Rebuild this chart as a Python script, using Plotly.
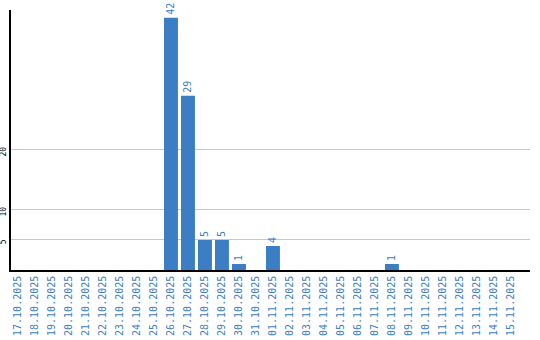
import plotly.graph_objects as go

dates = ["17.10.2025","18.10.2025","19.10.2025","20.10.2025","21.10.2025","22.10.2025",
         "23.10.2025","24.10.2025","25.10.2025","26.10.2025","27.10.2025","28.10.2025",
         "29.10.2025","30.10.2025","31.10.2025","01.11.2025","02.11.2025","03.11.2025",
         "04.11.2025","05.11.2025","06.11.2025","07.11.2025","08.11.2025","09.11.2025",
         "10.11.2025","11.11.2025","12.11.2025","13.11.2025","14.11.2025","15.11.2025"]
counts = [0,0,0,0,0,0,0,0,0,42,29,5,5,1,0,4,0,0,0,0,0,0,1,0,0,0,0,0,0,0]
ytick_vals = [5, 10, 20]

blue = "#3b7ec3"
xs = list(range(len(dates)))
fig = go.Figure(go.Bar(
    x=xs, y=counts, width=0.82,
    marker=dict(color=blue, line=dict(width=0)),
    text=[str(v) if v else "" for v in counts],
    textposition="outside", textangle=-90,
    textfont=dict(family="DejaVu Sans Mono", size=10, color=blue),
    cliponaxis=False,
))
fig.update_layout(
    template="none",
    width=540, height=340,
    margin=dict(l=11, r=10, t=10, b=70, pad=0),
    paper_bgcolor="white", plot_bgcolor="white",
    showlegend=False,
    xaxis=dict(range=[-0.41, 30.12], tickvals=xs, ticktext=dates, tickangle=-90,
               tickfont=dict(family="DejaVu Sans Mono", size=10, color=blue),
               showgrid=False, showline=True, linecolor="black", linewidth=1.5,
               ticks="", zeroline=False, automargin=False),
    yaxis=dict(range=[0, 43.3], tickvals=ytick_vals, tickangle=-90,
               tickfont=dict(family="DejaVu Sans Mono", size=8, color="black"),
               ticklabelshift=3,
               showgrid=True, gridcolor="#c8c8c8", gridwidth=1,
               showline=True, linecolor="black", linewidth=1.5,
               ticks="", zeroline=False, automargin=False),
    bargap=0.18,
)
fig.write_html("out.html")
